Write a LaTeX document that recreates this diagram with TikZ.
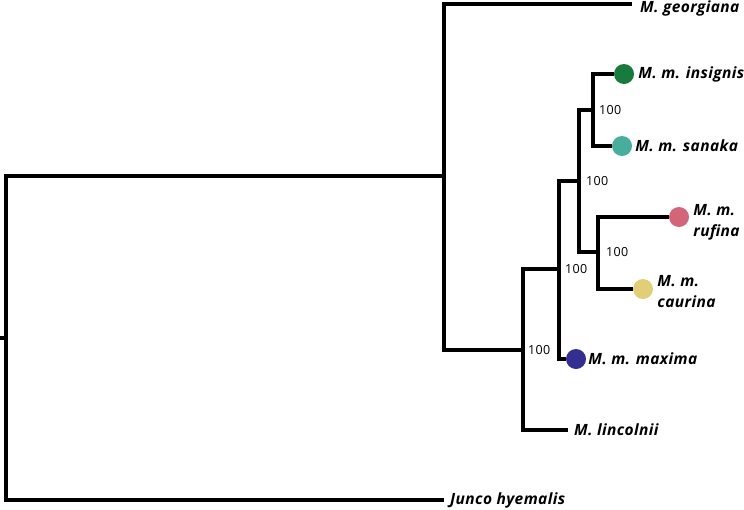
\documentclass[tikz,border=0pt]{standalone}
\usepackage{fontspec}
\setmainfont{Open Sans}
\newfontfamily\treefont[LetterSpace=2.5]{Open Sans}
\usetikzlibrary{positioning}
\definecolor{cInsignis}{RGB}{24,122,60}
\definecolor{cSanaka}{RGB}{72,174,156}
\definecolor{cRufina}{RGB}{210,102,120}
\definecolor{cCaurina}{RGB}{226,206,118}
\definecolor{cMaxima}{RGB}{50,46,146}
\tikzset{
  branch/.style={line width=3.2pt, line join=miter, color=black},
  tipdot/.style={circle, minimum size=20pt, inner sep=0pt, draw=none},
  taxon/.style={anchor=west, inner sep=0pt, align=left,
                font=\treefont\fontsize{15.5}{21}\selectfont\bfseries\itshape},
  support/.style={anchor=west, inner sep=0pt,
                  font=\treefont\fontsize{12.5}{14}\selectfont}
}
\begin{document}
\begin{tikzpicture}[x=1pt,y=-1pt]
  \useasboundingbox (0,0) rectangle (744,509);
  % internal nodes
  \coordinate (stub) at (0,338);
  \coordinate (root) at (6,338);
  \coordinate (nMelo) at (444,176);
  \coordinate (nLinc) at (523,350);
  \coordinate (nMel) at (559,269);
  \coordinate (nNorth) at (579,181);
  \coordinate (nIns) at (593,110);
  \coordinate (nRuf) at (598,252);
  % tips
  \coordinate (junco) at (444,500);
  \coordinate (georgiana) at (632,4);
  \coordinate (lincolnii) at (568,430);
  \node[tipdot, fill=cInsignis] (insignis) at (624,74) {};
  \node[tipdot, fill=cSanaka] (sanaka) at (622,146) {};
  \node[tipdot, fill=cRufina] (rufina) at (679,217) {};
  \node[tipdot, fill=cCaurina] (caurina) at (643,289) {};
  \node[tipdot, fill=cMaxima] (maxima) at (576,359) {};

  % branches
  \draw[branch] (stub) -- (root);
  \draw[branch] (root) |- (nMelo);
  \draw[branch] (root) |- (junco);
  \draw[branch] (nMelo) |- (georgiana);
  \draw[branch] (nMelo) |- (nLinc);
  \draw[branch] (nLinc) |- (nMel);
  \draw[branch] (nLinc) |- (lincolnii);
  \draw[branch] (nMel) |- (nNorth);
  \draw[branch] (nMel) |- (maxima);
  \draw[branch] (nNorth) |- (nIns);
  \draw[branch] (nNorth) |- (nRuf);
  \draw[branch] (nIns) |- (insignis);
  \draw[branch] (nIns) |- (sanaka);
  \draw[branch] (nRuf) |- (rufina);
  \draw[branch] (nRuf) |- (caurina);

  % taxon names
  \node[taxon, right=8pt of georgiana, yshift=-4pt] (lGeo) {M. georgiana};
  \node[taxon, right=4pt of insignis] (lIns) {M. m. insignis};
  \node[taxon, right=3pt of sanaka] (lSan) {M. m. sanaka};
  \node[taxon, right=4pt of rufina, yshift=-5pt] (lRuf) {M. m.\\rufina};
  \node[taxon, right=4pt of caurina, yshift=-3pt] (lCau) {M. m.\\caurina};
  \node[taxon, right=2pt of maxima] (lMax) {M. m. maxima};
  \node[taxon, right=6pt of lincolnii] (lLinc) {M. lincolnii};
  \node[taxon, right=6pt of junco] (lJun) {Junco hyemalis};

  % bootstrap support
  \node[support, right=6pt of nIns] {100};
  \node[support, right=7pt of nNorth] {100};
  \node[support, right=6pt of nMel] {100};
  \node[support, right=8pt of nRuf] {100};
  \node[support, right=5pt of nLinc] {100};
\end{tikzpicture}
\end{document}
